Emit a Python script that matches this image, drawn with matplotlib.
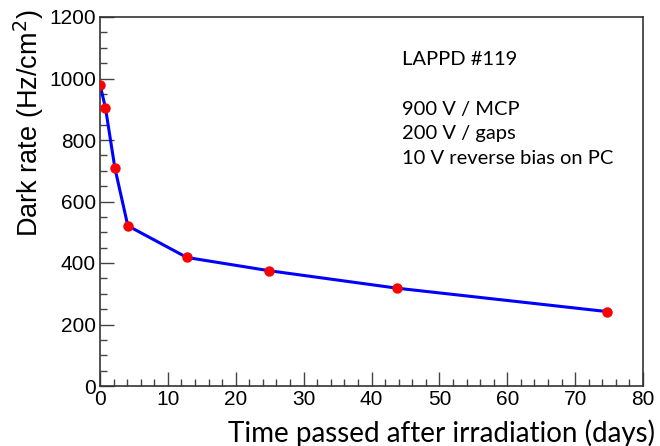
import matplotlib
matplotlib.use("Agg")
import matplotlib.pyplot as plt
from matplotlib.ticker import MultipleLocator

# data
days = [0.0, 0.8, 2.2, 4.1, 12.8, 24.9, 43.8, 74.7]
dark_rate = [980, 905, 708, 521, 418, 375, 318, 242]

info_lines = ["LAPPD #119", "", "900 V / MCP", "200 V / gaps", "10 V reverse bias on PC"]

fig = plt.figure(figsize=(6.6, 4.46), dpi=100)
ax = fig.add_axes([100 / 660, 1 - 386 / 446, 543 / 660, 369 / 446])

ax.plot(days, dark_rate, color="#0000ff", lw=2.2, zorder=2)
ax.plot(days, dark_rate, "o", color="#ff0000", ms=7.5, mec="none", zorder=3)

ax.set_xlim(0, 80)
ax.set_ylim(0, 1200)
ax.xaxis.set_major_locator(MultipleLocator(10))
ax.xaxis.set_minor_locator(MultipleLocator(2))
ax.yaxis.set_major_locator(MultipleLocator(200))
ax.yaxis.set_minor_locator(MultipleLocator(50))
ax.tick_params(which="both", direction="in", top=False, right=False,
               color="#444444", labelsize=15, pad=3)
ax.tick_params(which="major", length=10, width=1)
ax.tick_params(which="minor", length=5, width=1)
for lab in ax.get_xticklabels() + ax.get_yticklabels():
    lab.set_family("Liberation Sans")
for sp in ax.spines.values():
    sp.set_color("#333333")
    sp.set_linewidth(1.2)

# ROOT-style labels pushed to the top / right ends
ax.set_ylabel("Dark rate (Hz/cm$^2$)", fontsize=19.5, family="Liberation Sans")
ax.yaxis.label.set_horizontalalignment("right")
ax.yaxis.label.set_verticalalignment("center")
ax.yaxis.set_label_coords(29 / 660, 1 - 10 / 446, transform=fig.transFigure)

ax.set_xlabel("Time passed after irradiation (days)", fontsize=20, family="Lato")
ax.xaxis.label.set_horizontalalignment("right")
ax.xaxis.label.set_verticalalignment("baseline")
ax.xaxis.set_label_coords(655 / 660, 1 - 442 / 446, transform=fig.transFigure)

ax.text(0.557, 0.907, "\n".join(info_lines), transform=ax.transAxes,
        fontsize=14.5, family="Lato", va="top", ha="left", linespacing=1.55)

fig.savefig("out.png", dpi=100)
